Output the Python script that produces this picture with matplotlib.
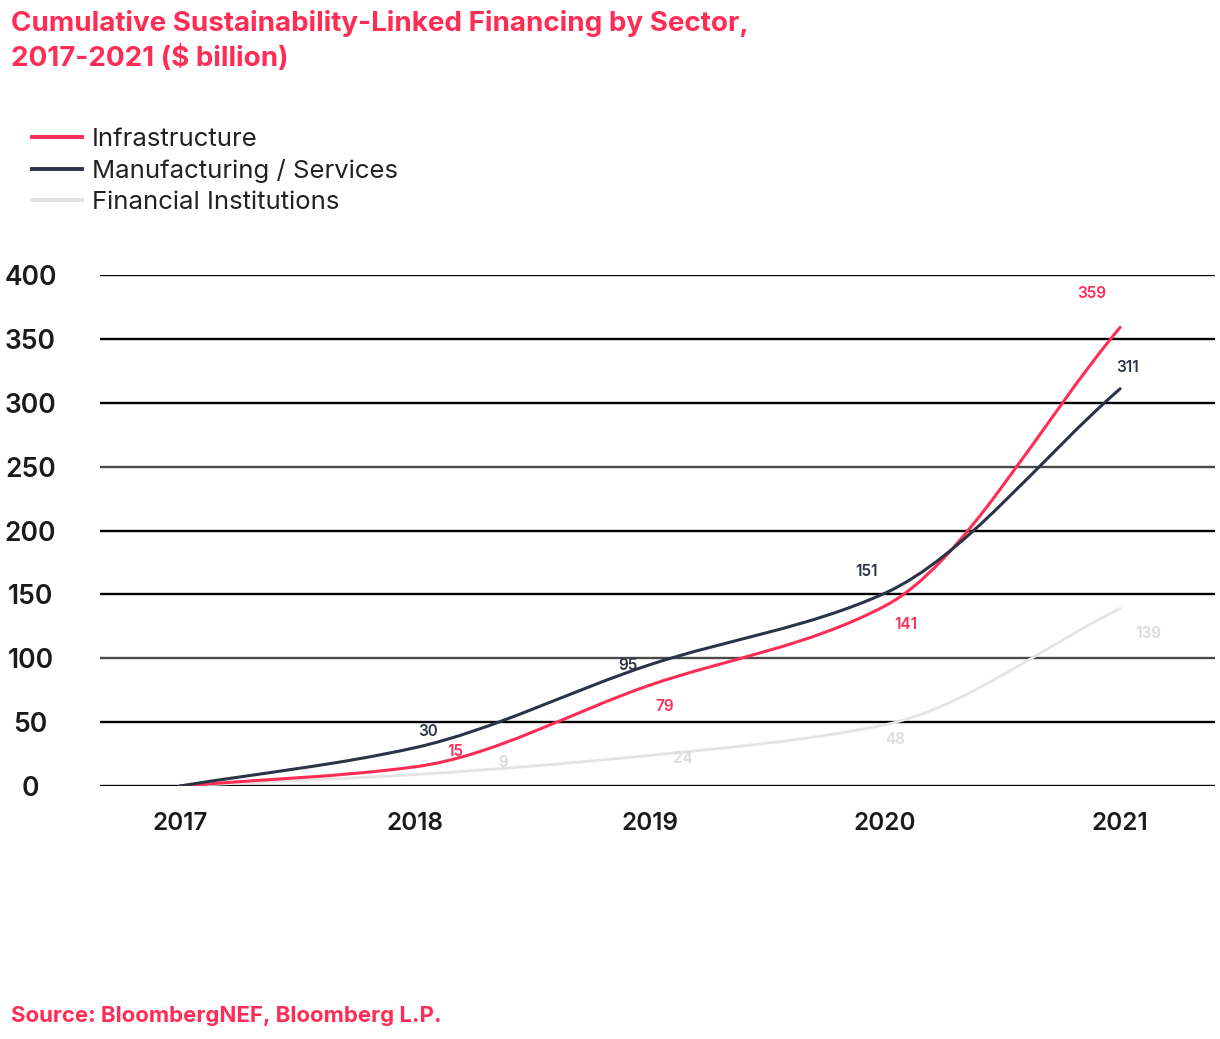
import numpy as np
import matplotlib
matplotlib.use("Agg")
import matplotlib.pyplot as plt
from matplotlib.path import Path
from matplotlib.patches import PathPatch
from matplotlib.lines import Line2D

plt.rcParams['font.family'] = ['Inter', 'DejaVu Sans']

# data ($ billion, cumulative)
years = [2017, 2018, 2019, 2020, 2021]
infrastructure = [0, 15, 79, 141, 359]
manufacturing = [0, 30, 95, 151, 311]
financial = [0, 9, 24, 48, 139]
series_names = ["Infrastructure", "Manufacturing / Services", "Financial Institutions"]
y_ticks = [0, 50, 100, 150, 200, 250, 300, 350, 400]

# styling
RED = '#ff2d55'
NAVY = '#2b3347'
LIGHT = '#e4e4e4'
colors = [RED, NAVY, LIGHT]
label_colors = [RED, '#2b3347', '#dcdcdc']
# label offsets in pixels from each point (2018..2021)
label_offsets = [
    [(40, 15), (15, -21), (21, -19), (-29, 34)],
    [(13, 16), (-22, -1), (-19, 22), (7, 21)],
    [(88, 12), (33, -3), (10, -15), (28, -25)],
]


def smooth_path(x, y):
    # monotone cubic (Fritsch-Carlson) as bezier segments
    x = np.asarray(x, float)
    y = np.asarray(y, float)
    h = np.diff(x)
    d = np.diff(y) / h
    m = np.zeros_like(y)
    m[0], m[-1] = d[0], d[-1]
    for i in range(1, len(x) - 1):
        if d[i - 1] * d[i] <= 0:
            m[i] = 0
        else:
            m[i] = 2 / (1 / d[i - 1] + 1 / d[i])
    verts = [(x[0], y[0])]
    codes = [Path.MOVETO]
    for i in range(len(x) - 1):
        verts += [(x[i] + h[i] / 3, y[i] + m[i] * h[i] / 3),
                  (x[i + 1] - h[i] / 3, y[i + 1] - m[i + 1] * h[i] / 3),
                  (x[i + 1], y[i + 1])]
        codes += [Path.CURVE4] * 3
    return Path(verts, codes)


fig = plt.figure(figsize=(12.2, 10.39), dpi=100)
ax = fig.add_axes([0.082, 0.2435, 0.914, 0.4918])

xs = np.arange(len(years))
ax.set_xlim(-0.34, 4.404)
ax.set_ylim(0, 400)

# grid lines
for v in y_ticks:
    c = '#4a4a4a' if v in (100, 250) else 'black'
    ax.axhline(v, color=c, lw=1.7, zorder=1)

all_series = [infrastructure, manufacturing, financial]
for k in [2, 0, 1]:
    vals = all_series[k]
    lw = 2.0 if k == 2 else 2.2
    patch = PathPatch(smooth_path(xs, vals), fill=False, edgecolor=colors[k],
                      lw=lw, zorder=3 + (k != 2), capstyle='round')
    ax.add_patch(patch)
    for i in range(1, len(vals)):
        ax.annotate(str(vals[i]), (xs[i], vals[i]), xytext=label_offsets[k][i - 1],
                    textcoords='offset pixels', ha='center', va='center',
                    fontsize=11, fontweight='semibold', color=label_colors[k], zorder=5)

for s in ax.spines.values():
    s.set_visible(False)

ax.set_yticks(y_ticks)
ax.set_yticklabels([str(v) for v in y_ticks])
ax.tick_params(axis='y', length=0, pad=50, labelsize=19, labelcolor='#1a1a1a')
for t in ax.get_yticklabels():
    t.set_ha('center')
    t.set_fontweight('semibold')

ax.set_xticks(xs)
ax.set_xticklabels([str(y) for y in years])
ax.tick_params(axis='x', length=0, pad=19, labelsize=17.5, labelcolor='#1a1a1a')
for t in ax.get_xticklabels():
    t.set_fontweight('semibold')

# title and source
fig.text(0.009, 0.990, "Cumulative Sustainability-Linked Financing by Sector,\n2017-2021 ($ billion)",
         ha='left', va='top', fontsize=20, fontweight='bold', color=RED, linespacing=1.36)
fig.text(0.009, 0.022, "Source: BloombergNEF, Bloomberg L.P.", ha='left', va='center',
         fontsize=16, fontweight='bold', color=RED)

handles = [Line2D([], [], color=c, lw=2.8) for c in colors]
fig.legend(handles, series_names, loc='upper left', bbox_to_anchor=(0.026, 0.877),
           frameon=False, fontsize=18.5, handlelength=1.95, handletextpad=0.38,
           labelspacing=0.32, borderpad=0, borderaxespad=0, labelcolor='#222222')

fig.savefig("out.png", dpi=100)
